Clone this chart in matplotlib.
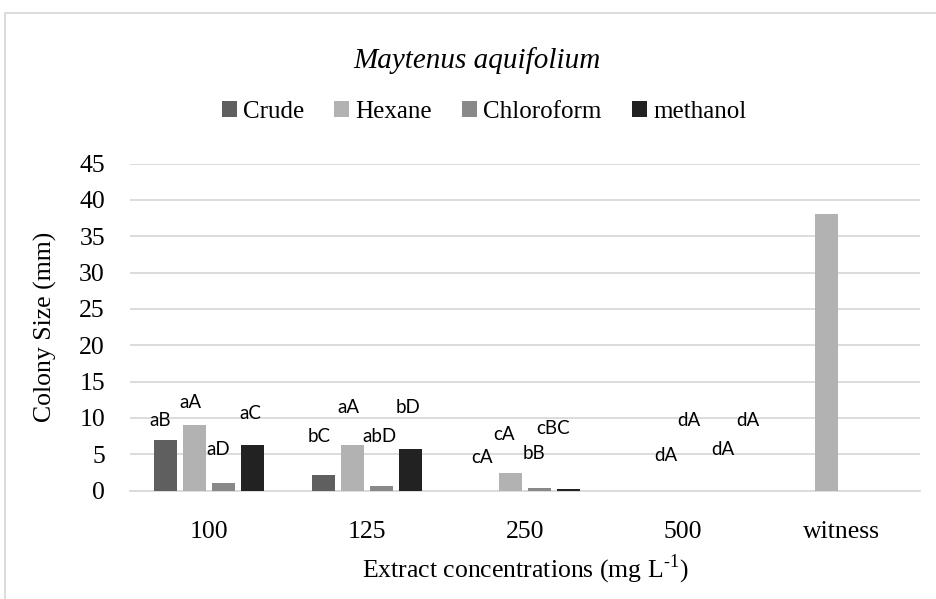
import numpy as np
import matplotlib
matplotlib.use("Agg")
from matplotlib import pyplot as plt
from matplotlib.patches import Rectangle

plt.rcParams['font.family'] = ['Liberation Serif', 'DejaVu Serif']
plt.rcParams['mathtext.fontset'] = 'custom'
plt.rcParams['mathtext.rm'] = 'Liberation Serif'

# data
categories = ['100', '125', '250', '500', 'witness']
series_names = ['Crude', 'Hexane', 'Chloroform', 'methanol']
crude = [7.0, 2.2, 0, 0, 0]
hexane = [9.0, 6.3, 2.4, 0, 38.1]
chloroform = [1.0, 0.7, 0.4, 0, 0]
methanol = [6.3, 5.8, 0.2, 0, 0]

# letter labels for each group (same order as the series)
labels = [['aB', 'aA', 'aD', 'aC'],
          ['bC', 'aA', 'abD', 'bD'],
          ['cA', 'cA', 'bB', 'cBC'],
          ['dA', 'dA', 'dA', 'dA']]
label_y = [[9.6, 12.1, 5.6, 10.6],
           [7.5, 11.5, 7.5, 11.5],
           [4.6, 7.7, 5.1, 8.6],
           [4.9, 9.7, 5.7, 9.7]]
label_dx = [[-0.31, -0.12, 0.06, 0.26],
            [-0.30, -0.12, 0.08, 0.26],
            [-0.27, -0.13, 0.06, 0.18],
            [-0.11, 0.04, 0.25, 0.41]]

colors = ['#5f5f5f', '#b2b2b2', '#898989', '#222222']
grid_col = '#d9d9d9'

fig = plt.figure(figsize=(9.37, 5.99), dpi=100)
ax = fig.add_axes([130 / 937, 1 - 490.7 / 599, 790 / 937, 327.2 / 599])

x = np.arange(len(categories))
step = 0.184
width = 0.142
for i, vals in enumerate([crude, hexane, chloroform, methanol]):
    ax.bar(x + (i - 1.5) * step, vals, width, color=colors[i],
           linewidth=0, label=series_names[i], zorder=3)

for g in range(len(labels)):
    for j in range(4):
        ax.text(x[g] + label_dx[g][j], label_y[g][j], labels[g][j],
                family=['Lato', 'DejaVu Sans'], fontsize=13.5,
                ha='center', va='center', zorder=4)

ax.set_xlim(-0.5, 4.5)
ax.set_ylim(0, 45)
ax.set_yticks(np.arange(0, 46, 5))
ax.set_xticks(x)
ax.set_xticklabels(categories)
ax.yaxis.grid(True, color=grid_col, linewidth=1.3, zorder=0)
ax.set_axisbelow(True)
for s in ['top', 'right', 'left']:
    ax.spines[s].set_visible(False)
ax.spines['bottom'].set_color(grid_col)
ax.spines['bottom'].set_linewidth(1.3)
ax.tick_params(axis='both', length=0, labelsize=18.5)
ax.tick_params(axis='x', pad=22)
ax.tick_params(axis='y', pad=18)

ax.set_ylabel('Colony Size (mm)', fontsize=18.5, labelpad=16)
ax.set_xlabel('Extract concentrations (mg L$^{\\text{-1}}$)', fontsize=18.5, labelpad=7)

fig.text(477 / 937, 1 - 61 / 599, 'Maytenus aquifolium', style='italic',
         fontsize=21, ha='center', va='center')

fig.legend(loc='center', bbox_to_anchor=(484 / 937, 1 - 112 / 599), ncol=4,
           frameon=False, fontsize=18, handlelength=0.6, handleheight=0.6,
           handletextpad=0.25, columnspacing=1.2)

# outer chart border (partly cut off in the reference)
fig.patches.append(Rectangle((5 / 937, -0.1), 1.2, 1 - 13 / 599 + 0.1,
                             transform=fig.transFigure, fill=False,
                             edgecolor=grid_col, linewidth=1.3))

fig.savefig('out.png', dpi=100)
